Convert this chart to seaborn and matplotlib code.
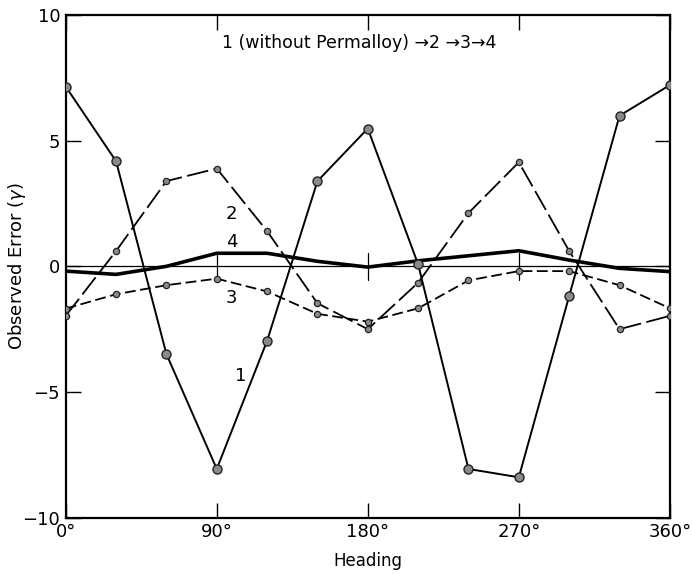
import matplotlib
matplotlib.use("Agg")
import matplotlib.pyplot as plt
import seaborn as sns
import pandas as pd
import numpy as np

heading = [0, 30, 60, 90, 120, 150, 180, 210, 240, 270, 300, 330, 360]
err1 = [7.15, 4.18, -3.49, -8.06, -2.96, 3.39, 5.48, 0.08, -8.06, -8.39, -1.18, 5.99, 7.21]
err2 = [-1.97, 0.61, 3.39, 3.89, 1.40, -1.47, -2.50, -0.65, 2.12, 4.14, 0.61, -2.50, -1.97]
err3 = [-1.68, -1.11, -0.75, -0.49, -1.00, -1.89, -2.20, -1.67, -0.56, -0.19, -0.19, -0.75, -1.67]
err4 = [-0.19, -0.32, 0.00, 0.52, 0.52, 0.20, -0.03, 0.22, 0.42, 0.62, 0.25, -0.08, -0.21]

x_ticks = [0, 90, 180, 270, 360]
x_labels = ["0°", "90°", "180°", "270°", "360°"]
y_ticks = [-10, -5, 0, 5, 10]
y_labels = ["\u221210", "\u22125", "0", "5", "10"]

sns.set_theme(style="white")
plt.rcParams['font.family'] = ['DejaVu Sans']
plt.rcParams['text.color'] = 'black'
plt.rcParams['axes.labelcolor'] = 'black'
plt.rcParams['xtick.color'] = 'black'
plt.rcParams['ytick.color'] = 'black'

fig = plt.figure(figsize=(6.92, 5.74), dpi=100)
ax = fig.add_axes([0.095, 0.098, 0.873, 0.876])

df = pd.DataFrame({"heading": heading, "e1": err1, "e2": err2, "e3": err3, "e4": err4})

ax.axhline(0, color="black", lw=0.9, zorder=1)

mk = dict(markerfacecolor="#8a8a8a", markeredgecolor="#222222")
sns.lineplot(data=df, x="heading", y="e1", ax=ax, color="black", lw=1.4,
             marker="o", markersize=6.5, markeredgewidth=1.0, zorder=4, **mk)
sns.lineplot(data=df, x="heading", y="e2", ax=ax, color="black", lw=1.3,
             marker="o", markersize=4.5, markeredgewidth=0.9, zorder=3, **mk)
ax.lines[-1].set_dashes([12, 3])
sns.lineplot(data=df, x="heading", y="e3", ax=ax, color="black", lw=1.3,
             marker="o", markersize=4.5, markeredgewidth=0.9, zorder=3, **mk)
ax.lines[-1].set_dashes([6, 2.5])
sns.lineplot(data=df, x="heading", y="e4", ax=ax, color="black", lw=2.6, zorder=2)

# crosses on zero line
for xv in [90, 180, 270]:
    ax.plot([xv, xv], [-0.55, 0.55], color="black", lw=0.9, zorder=1)

ax.set_xlim(0, 360)
ax.set_ylim(-10, 10)
ax.set_xticks(x_ticks)
ax.set_xticklabels(x_labels, fontsize=13)
ax.set_yticks(y_ticks)
ax.set_yticklabels(y_labels, fontsize=13)
ax.tick_params(axis="x", direction="in", length=11, width=1.0, top=True, bottom=True, pad=4)
ax.tick_params(axis="y", direction="in", length=11, width=1.0, left=True, right=True, pad=4)
for s in ax.spines.values():
    s.set_color("black")
    s.set_linewidth(1.6)

ax.set_xlabel("Heading", fontsize=12)
ax.set_ylabel("Observed Error ($\\gamma$)", fontsize=13)
ax.yaxis.set_label_coords(-0.062, 0.5)
ax.xaxis.set_label_coords(0.5, -0.068)

ax.text(175, 8.9, "1 (without Permalloy) \u21922 \u21923\u21924", fontsize=12.5,
        ha="center", va="center")
ax.text(99, 2.1, "2", fontsize=13, ha="center", va="center")
ax.text(99, 0.95, "4", fontsize=13, ha="center", va="center")
ax.text(99, -1.27, "3", fontsize=13, ha="center", va="center")
ax.text(104, -4.35, "1", fontsize=13, ha="center", va="center")

fig.savefig("out.png", dpi=100)
